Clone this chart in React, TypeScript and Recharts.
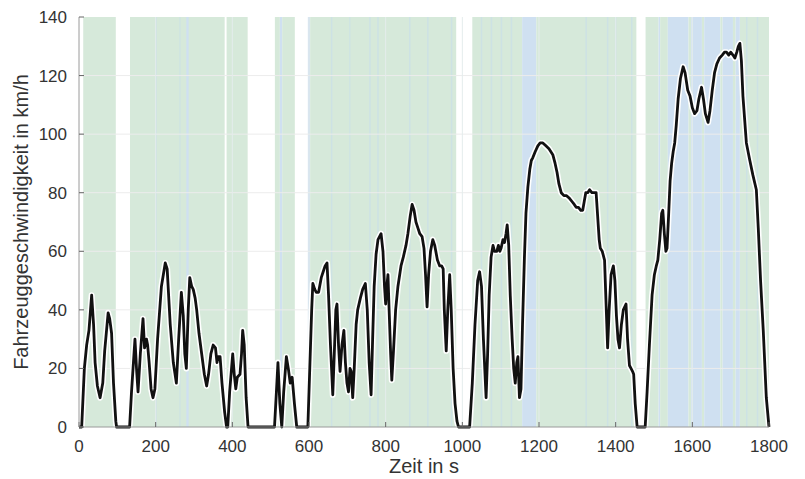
import { LineChart, Line, XAxis, YAxis, ReferenceArea, ReferenceLine } from "recharts";

// WLTC speed trace: [time in s, speed in km/h]
const trace: [number, number][] = [
  [0, 0], [7, 0], [14, 20], [20, 28], [26, 33], [33, 45], [38, 35], [42, 22], [48, 14], [55, 10],
  [62, 15], [67, 26], [76, 39], [80, 37], [85, 32], [90, 15], [96, 2], [98, 0],
  [132, 0], [137, 12], [146, 30], [150, 20], [154, 12], [160, 25], [167, 37], [171, 27], [176, 30],
  [179, 28], [183, 22], [188, 13], [193, 10], [198, 13], [205, 30], [215, 48], [225, 56], [230, 54],
  [238, 35], [246, 22], [254, 15], [260, 30], [267, 46], [272, 38], [276, 25], [280, 20], [285, 40],
  [289, 51], [294, 48], [298, 47], [303, 44], [307, 40], [313, 32], [320, 25], [327, 18], [333, 14],
  [338, 18], [344, 25], [350, 28], [356, 27], [360, 22], [363, 24], [368, 24], [373, 15], [380, 5],
  [385, 0], [388, 0], [393, 12], [401, 25], [405, 18], [409, 13], [413, 17], [420, 18], [424, 25],
  [427, 33], [431, 28], [436, 10], [441, 0],
  [510, 0], [515, 12], [519, 22], [524, 8], [529, 0], [534, 12], [541, 24], [546, 20], [551, 15],
  [556, 17], [562, 8], [568, 0],
  [597, 0], [602, 20], [607, 40], [610, 49], [615, 47], [619, 46], [625, 46], [632, 51], [637, 53],
  [642, 55], [647, 56], [651, 45], [656, 28], [662, 11], [666, 25], [670, 40], [673, 42], [677, 28],
  [681, 19], [686, 28], [691, 33], [695, 22], [699, 15], [703, 12], [707, 20], [710, 19], [714, 10],
  [718, 20], [723, 35], [727, 40], [734, 44], [740, 47], [747, 49], [752, 40], [757, 22], [762, 11],
  [766, 30], [770, 48], [775, 59], [780, 64], [788, 66], [793, 60], [797, 48], [800, 42], [803, 48],
  [806, 52], [809, 40], [813, 25], [816, 16], [820, 25], [826, 40], [832, 48], [840, 55], [846, 58],
  [853, 62], [858, 66], [864, 72], [869, 76], [874, 74], [879, 70], [884, 68], [889, 66], [895, 65],
  [900, 61], [904, 52], [908, 41], [912, 52], [917, 60], [923, 64], [928, 62], [935, 57], [941, 55],
  [946, 55], [950, 54], [953, 40], [958, 26], [962, 40], [967, 52], [971, 40], [976, 20], [981, 8],
  [986, 2], [990, 0],
  [1019, 0], [1026, 15], [1033, 35], [1040, 50], [1045, 53], [1050, 48], [1055, 30], [1062, 10],
  [1066, 25], [1070, 45], [1075, 58], [1080, 62], [1084, 60], [1090, 60], [1094, 62], [1098, 60],
  [1101, 61], [1106, 64], [1110, 63], [1114, 66], [1117, 69], [1121, 62], [1125, 45], [1130, 30],
  [1134, 20], [1138, 15], [1142, 22], [1145, 24], [1149, 10], [1153, 13], [1157, 35], [1162, 58],
  [1166, 73], [1171, 82], [1176, 88], [1180, 91], [1184, 92], [1190, 94], [1197, 96], [1203, 97],
  [1210, 97], [1218, 96], [1226, 95], [1236, 93], [1242, 90], [1247, 87], [1252, 83], [1258, 80],
  [1265, 79], [1272, 79], [1280, 78], [1286, 77], [1292, 76], [1297, 75], [1303, 75], [1309, 74],
  [1314, 74], [1318, 77], [1322, 80], [1327, 80], [1332, 81], [1338, 80], [1344, 80], [1349, 80],
  [1353, 72], [1357, 64], [1360, 61], [1365, 60], [1371, 57], [1375, 42], [1379, 27], [1383, 40],
  [1388, 52], [1394, 55], [1398, 50], [1402, 38], [1406, 30], [1410, 27], [1415, 35], [1420, 40],
  [1427, 42], [1431, 30], [1436, 21], [1440, 20], [1444, 19], [1447, 18], [1451, 8], [1456, 0],
  [1477, 0], [1482, 12], [1488, 28], [1495, 45], [1501, 52], [1506, 55], [1510, 57], [1515, 64],
  [1520, 73], [1523, 74], [1527, 66], [1531, 60], [1534, 61], [1538, 72], [1542, 84], [1546, 90],
  [1550, 94], [1554, 97], [1558, 103], [1563, 112], [1569, 119], [1576, 123], [1581, 121],
  [1588, 115], [1594, 113], [1600, 109], [1606, 107], [1612, 108], [1617, 112], [1624, 116],
  [1629, 112], [1634, 107], [1641, 104], [1646, 108], [1652, 115], [1658, 121], [1664, 124],
  [1671, 126], [1678, 127], [1684, 128], [1689, 128], [1695, 127], [1700, 128], [1706, 127],
  [1711, 126], [1716, 128], [1720, 130], [1724, 131], [1728, 125], [1732, 113], [1741, 97],
  [1750, 91], [1758, 86], [1767, 81], [1772, 68], [1778, 50], [1785, 33], [1793, 10], [1800, 0],
];

const xTicks = [0, 200, 400, 600, 800, 1000, 1200, 1400, 1600, 1800];
const yTicks = [0, 20, 40, 60, 80, 100, 120, 140];

// background classification zones [from s, to s, kind]
const zones: [number, number, string][] = [
  [11, 96, "g"], [133, 380, "g"], [280, 286, "b"], [385, 440, "g"],
  [511, 524, "g"], [524, 530, "b"], [530, 563, "g"], [597, 603, "b"], [603, 984, "g"],
  [1026, 1156, "g"], [1156, 1193, "b"], [1193, 1454, "g"],
  [1478, 1512, "g"], [1512, 1516, "b"], [1516, 1536, "g"], [1536, 1590, "b"], [1590, 1597, "g"],
  [1597, 1625, "b"], [1625, 1631, "g"], [1631, 1673, "b"], [1673, 1679, "g"], [1679, 1706, "b"],
  [1706, 1713, "g"], [1713, 1724, "b"], [1724, 1800, "g"],
];

// thin mixed stripes inside the zones [from s, to s]
const stripes: [number, number][] = [
  [200, 203], [262, 265], [657, 661], [705, 708], [757, 761], [778, 782], [861, 865], [908, 912],
  [970, 974], [1048, 1052], [1074, 1078], [1100, 1104], [1126, 1130], [1321, 1325], [1377, 1381],
  [1398, 1402], [1440, 1444], [1740, 1744], [1768, 1772],
];

const data = trace.map(([t, v]) => ({ t, v }));

const zoneFill: Record<string, string> = { g: "#d6e9da", b: "#cfe0f1" };
const font = "'Liberation Sans', Arial, sans-serif";
const textColor = "#333333";
const boxColor = "#9a9a9a";

const YLabel = (p: any) => {
  const vb = p.viewBox;
  const cx = 21;
  const cy = vb.y + vb.height / 2;
  return (
    <text x={cx} y={cy} transform={`rotate(-90 ${cx} ${cy})`} textAnchor="middle"
      dominantBaseline="central" fill={textColor} fontSize={20} fontFamily={font}>
      Fahrzeuggeschwindigkeit in km/h
    </text>
  );
};

const XLabel = (p: any) => {
  const vb = p.viewBox;
  const cx = vb.x + vb.width / 2;
  return (
    <text x={cx} y={466} textAnchor="middle" dominantBaseline="central"
      fill={textColor} fontSize={20} fontFamily={font}>
      Zeit in s
    </text>
  );
};

export default function App() {
  return (
    <div style={{ position: "absolute", left: 0, top: 0, width: 790, height: 479, overflow: "hidden", background: "#fff" }}>
      <LineChart width={805} height={479} data={data}
        margin={{ top: 17, right: 36, bottom: 0, left: 0 }} style={{ fontFamily: font }}>
        {zones.map(([a, b, k], i) => (
          <ReferenceArea key={`z${i}`} x1={a} x2={b} fill={zoneFill[k]} fillOpacity={1}
            stroke="none" ifOverflow="hidden" />
        ))}
        {stripes.map(([a, b], i) => (
          <ReferenceArea key={`s${i}`} x1={a} x2={b} fill="#cde2e4" fillOpacity={1}
            stroke="none" ifOverflow="hidden" />
        ))}
        {yTicks.slice(1, -1).map((y) => (
          <ReferenceLine key={`gy${y}`} y={y} stroke="#ececec" strokeWidth={1} />
        ))}
        {xTicks.slice(1, -1).map((x) => (
          <ReferenceLine key={`gx${x}`} x={x} stroke="#e4ecec" strokeWidth={1} />
        ))}
        <XAxis dataKey="t" type="number" domain={[0, 1800]} ticks={xTicks} interval={0}
          height={52} tickSize={-5} tickMargin={18} stroke={boxColor}
          tick={{ fill: textColor, fontSize: 17 }} tickLine={{ stroke: "#666" }}
          label={{ content: XLabel }} />
        <XAxis xAxisId="top" orientation="top" dataKey="t" type="number" domain={[0, 1800]}
          ticks={xTicks} interval={0} height={0} tickSize={-5} stroke={boxColor}
          tickFormatter={() => ""} tickLine={{ stroke: "#666" }} />
        <YAxis type="number" domain={[0, 140]} ticks={yTicks} interval={0} width={79}
          tickSize={-5} tickMargin={17} stroke={boxColor}
          tick={{ fill: textColor, fontSize: 17 }} tickLine={{ stroke: "#666" }}
          label={{ content: YLabel }} />
        <YAxis yAxisId="right" orientation="right" type="number" domain={[0, 140]} ticks={yTicks}
          interval={0} width={0} tickSize={-5} stroke={boxColor} tickFormatter={() => ""}
          tickLine={{ stroke: "#666" }} />
        <Line dataKey="v" type="linear" stroke="#ffffff" strokeWidth={6} dot={false}
          isAnimationActive={false} strokeLinejoin="round" />
        <Line dataKey="v" type="linear" stroke="#111111" strokeWidth={2.8} dot={false}
          isAnimationActive={false} strokeLinejoin="round" />
      </LineChart>
    </div>
  );
}
